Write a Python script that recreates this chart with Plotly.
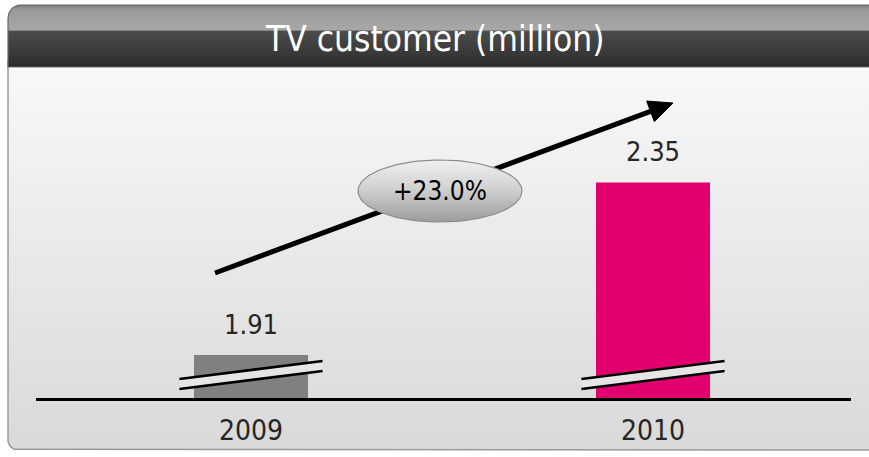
import numpy as np
import plotly.graph_objects as go

# ---------------- data ----------------
years = ["2009", "2010"]
customers = [1.91, 2.35]
bar_colors = ["#808080", "#e2006f"]
growth_label = "+23.0%"
title_text = "TV customer (million)"
axis_floor = 1.8          # broken (truncated) value axis starts here

# ---------------- geometry (pixels) ----------------
W, H = 869, 457
PLOT_L, PLOT_R = 36, 851
PLOT_T, PLOT_B = 68, 398
PX_PER_UNIT = 392.0
FONT = "DejaVu Sans Condensed"


def Y(py):
    return H - py


def rrect(x0, y0, x1, y1, rtl=0, rtr=0, rbr=0, rbl=0, n=14):
    xs, ys = [], []

    def corner(cx, cy, r, a0, a1, px, py):
        if r <= 0:
            xs.append(px); ys.append(Y(py)); return
        for t in np.linspace(np.radians(a0), np.radians(a1), n):
            xs.append(cx + r * np.cos(t)); ys.append(Y(cy + r * np.sin(t)))

    corner(x0 + rtl, y0 + rtl, rtl, 180, 270, x0, y0)
    corner(x1 - rtr, y0 + rtr, rtr, 270, 360, x1, y0)
    corner(x1 - rbr, y1 - rbr, rbr, 0, 90, x1, y1)
    corner(x0 + rbl, y1 - rbl, rbl, 90, 180, x0, y1)
    xs.append(xs[0]); ys.append(ys[0])
    return xs, ys


fig = go.Figure()

bx, by = rrect(8, 60, 890, 450, rbl=10)
fig.add_trace(go.Scatter(
    x=bx, y=by, mode="lines", fill="toself",
    line=dict(color="#9a9a9a", width=1.5),
    fillgradient=dict(type="vertical", start=Y(450), stop=Y(66),
                      colorscale=[[0, "#d9d9d9"], [1, "#f8f8f8"]]),
    hoverinfo="skip", showlegend=False, xaxis="x", yaxis="y"))

tx, ty = rrect(8, 5, 890, 67, rtl=13)
fig.add_trace(go.Scatter(
    x=tx, y=ty, mode="lines", fill="toself",
    line=dict(color="#6a6a6a", width=1.2),
    fillgradient=dict(type="vertical", start=Y(67), stop=Y(5),
                      colorscale=[[0, "#222222"], [0.06, "#303030"],
                                  [0.58, "#4c4c4c"], [0.595, "#a8a8a8"],
                                  [0.93, "#9a9a9a"], [1, "#7a7a7a"]]),
    hoverinfo="skip", showlegend=False, xaxis="x", yaxis="y"))

ax0, ay0, ax1, ay1 = 215, 273, 673, 103
d = np.array([ax1 - ax0, ay1 - ay0], float)
u = d / np.linalg.norm(d)
nrm = np.array([-u[1], u[0]])
head_len, head_w = 24, 11
base = np.array([ax1, ay1]) - head_len * u
fig.add_trace(go.Scatter(
    x=[ax0, base[0]], y=[Y(ay0), Y(base[1])], mode="lines",
    line=dict(color="black", width=5), hoverinfo="skip", showlegend=False,
    xaxis="x", yaxis="y"))
c1 = base + head_w * nrm
c2 = base - head_w * nrm
fig.add_trace(go.Scatter(
    x=[ax1, c1[0], c2[0], ax1], y=[Y(ay1), Y(c1[1]), Y(c2[1]), Y(ay1)],
    mode="lines", fill="toself", fillcolor="black", line=dict(color="black", width=1),
    hoverinfo="skip", showlegend=False, xaxis="x", yaxis="y"))

ecx, ecy, erx, ery = 440, 191, 82, 31
t = np.linspace(0, 2 * np.pi, 120)
fig.add_trace(go.Scatter(
    x=ecx + erx * np.cos(t), y=Y(ecy + ery * np.sin(t)), mode="lines", fill="toself",
    line=dict(color="#8c8c8c", width=1.2),
    fillgradient=dict(type="vertical", start=Y(ecy + ery), stop=Y(ecy - ery),
                      colorscale=[[0, "#9c9c9c"], [0.55, "#d2d2d2"], [1, "#f0f0f0"]]),
    hoverinfo="skip", showlegend=False, xaxis="x", yaxis="y"))

xpos = list(range(len(years)))
fig.add_trace(go.Bar(
    x=xpos, y=[v - axis_floor for v in customers], base=axis_floor,
    marker=dict(color=bar_colors, line=dict(width=0)),
    width=114 / 402, hoverinfo="skip", showlegend=False,
    xaxis="x2", yaxis="y2"))

annotations = []
for i, v in zip(xpos, customers):
    annotations.append(dict(
        x=i, y=v, xref="x2", yref="y2", text=f"{v:.2f}", showarrow=False,
        yanchor="bottom", yshift=13,
        font=dict(family=FONT, size=27, color="#262626")))

annotations.append(dict(
    x=ecx, y=Y(ecy), xref="x", yref="y", text=growth_label, showarrow=False,
    font=dict(family=FONT, size=26, color="black")))
annotations.append(dict(
    x=435, y=Y(39), xref="x", yref="y", text=title_text, showarrow=False,
    font=dict(family=FONT, size=35, color="white")))

shapes = []
bx0, bx1 = -0.178, 0.178


def v_at(py):
    return axis_floor + (PLOT_B - py) / PX_PER_UNIT


for i in xpos:
    lt, rt = v_at(379), v_at(361)
    lb, rb = v_at(389), v_at(371)
    shapes.append(dict(
        type="path", xref="x2", yref="y2", layer="above",
        path=f"M {i+bx0},{lt} L {i+bx1},{rt} L {i+bx1},{rb} L {i+bx0},{lb} Z",
        fillcolor="#e6e6e6", line=dict(width=0)))
    for (ya, yb) in ((lt, rt), (lb, rb)):
        shapes.append(dict(type="line", xref="x2", yref="y2", layer="above",
                           x0=i + bx0, y0=ya, x1=i + bx1, y1=yb,
                           line=dict(color="black", width=2.5)))

fig.update_layout(
    width=W, height=H, margin=dict(l=0, r=0, t=0, b=0),
    paper_bgcolor="white", plot_bgcolor="rgba(0,0,0,0)",
    showlegend=False,
    xaxis=dict(domain=[0, 1], range=[0, W], visible=False, fixedrange=True),
    yaxis=dict(domain=[0, 1], range=[0, H], visible=False, fixedrange=True),
    xaxis2=dict(domain=[PLOT_L / W, PLOT_R / W], anchor="y2",
                range=[-215 / 402, 1 + 198 / 402],
                tickvals=xpos, ticktext=years, ticks="", showgrid=False, zeroline=False,
                showline=True, linecolor="black", linewidth=3, ticklabelstandoff=5,
                tickfont=dict(family=FONT, size=28, color="#262626"),
                fixedrange=True),
    yaxis2=dict(domain=[Y(PLOT_B) / H, Y(PLOT_T) / H], anchor="x2",
                range=[axis_floor, axis_floor + (PLOT_B - PLOT_T) / PX_PER_UNIT],
                visible=False, fixedrange=True),
    annotations=annotations, shapes=shapes,
)

fig.write_html("out.html", config={"displayModeBar": False},
               post_script="document.body.style.margin='0';")
